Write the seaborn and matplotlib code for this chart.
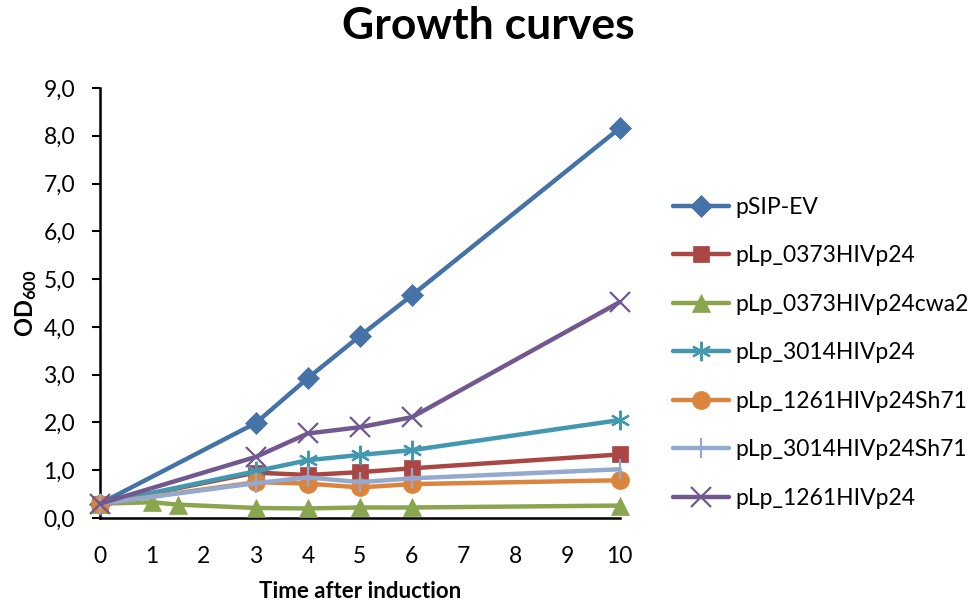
import matplotlib
matplotlib.use("Agg")
import matplotlib.pyplot as plt
import seaborn as sns
import pandas as pd
from matplotlib.lines import Line2D

# ---- data ----
series_names = ["pSIP-EV", "pLp_0373HIVp24", "pLp_0373HIVp24cwa2", "pLp_3014HIVp24",
                "pLp_1261HIVp24Sh71", "pLp_3014HIVp24Sh71", "pLp_1261HIVp24"]
time_std = [0, 3, 4, 5, 6, 10]
time_green = [0, 1, 1.5, 3, 4, 5, 6, 10]
od_psip_ev = [0.30, 1.99, 2.93, 3.81, 4.66, 8.16]
od_0373 = [0.30, 0.95, 0.90, 0.96, 1.04, 1.33]
od_0373cwa2 = [0.30, 0.33, 0.28, 0.21, 0.20, 0.22, 0.22, 0.26]
od_3014 = [0.30, 0.98, 1.21, 1.32, 1.42, 2.05]
od_1261sh71 = [0.30, 0.75, 0.72, 0.64, 0.71, 0.79]
od_3014sh71 = [0.30, 0.73, 0.85, 0.75, 0.83, 1.02]
od_1261 = [0.30, 1.28, 1.77, 1.90, 2.11, 4.52]
x_ticks = [0, 1, 2, 3, 4, 5, 6, 7, 8, 9, 10]
y_ticks = [0, 1, 2, 3, 4, 5, 6, 7, 8, 9]

colors = ["#4572A7", "#AA4643", "#89A54E", "#4198AF", "#DB843D", "#93A9CF", "#71588F"]
markers = ["D", "s", "^", (6, 2, 0), "o", "|", "x"]
msizes = [11, 12, 13, 14, 13, 14, 14]

times = [time_std, time_std, time_green, time_std, time_std, time_std, time_std]
values = [od_psip_ev, od_0373, od_0373cwa2, od_3014, od_1261sh71, od_3014sh71, od_1261]

rows = []
for name, t, v in zip(series_names, times, values):
    for ti, vi in zip(t, v):
        rows.append({"series": name, "time": ti, "od": vi})
df = pd.DataFrame(rows)

sns.set_theme(style="white")
plt.rcParams["font.family"] = ["Lato", "DejaVu Sans"]
plt.rcParams["mathtext.fontset"] = "custom"
plt.rcParams["mathtext.rm"] = "Lato"
plt.rcParams["mathtext.bf"] = "Lato:bold"
for k in ["text.color", "axes.labelcolor", "xtick.color", "ytick.color"]:
    plt.rcParams[k] = "black"

fig = plt.figure(figsize=(9.76, 6.05), dpi=100)
ax = fig.add_axes([0.1025, 0.1438, 0.5325, 0.7107])

for i, name in enumerate(series_names):
    sub = df[df["series"] == name]
    sns.lineplot(data=sub, x="time", y="od", ax=ax, color=colors[i], linewidth=3.2,
                 marker=markers[i], markersize=msizes[i], markeredgecolor=colors[i],
                 markeredgewidth=1.6 if i in (3, 5, 6) else 0.5,
                 legend=False, estimator=None, sort=False, zorder=3 + i, clip_on=False)

ax.set_xlim(0, 10)
ax.set_ylim(0, 9)
ax.set_xticks(x_ticks)
ax.set_xticklabels([str(t) for t in x_ticks])
ax.set_yticks(y_ticks)
ax.set_yticklabels([f"{v:.1f}".replace(".", ",") for v in y_ticks])
ax.tick_params(axis="x", length=0, pad=20, labelsize=16.5)
ax.tick_params(axis="y", length=6, width=1.5, direction="out", left=True, pad=12, labelsize=16.5)
for s in ["top", "right"]:
    ax.spines[s].set_visible(False)
for s in ["left", "bottom"]:
    ax.spines[s].set_color("black")
    ax.spines[s].set_linewidth(1.8)

ax.set_xlabel("Time after induction", fontsize=16, fontweight="bold", labelpad=10)
ax.set_ylabel(r"$\mathbf{OD_{600}}$", fontsize=17, labelpad=3)
fig.suptitle("Growth curves", x=0.5, y=0.99, fontsize=32, fontweight="bold")

handles = [Line2D([0], [0], color=colors[i], lw=3.2, marker=markers[i], markersize=msizes[i],
                  markeredgecolor=colors[i], markeredgewidth=1.6 if i in (3, 5, 6) else 0.5)
           for i in range(len(series_names))]
fig.legend(handles, series_names, loc="upper left", bbox_to_anchor=(0.680, 0.69),
           frameon=False, fontsize=16.5, handlelength=2.45, handletextpad=0.3,
           labelspacing=1.2, borderaxespad=0)

fig.savefig("out.png", dpi=100)
